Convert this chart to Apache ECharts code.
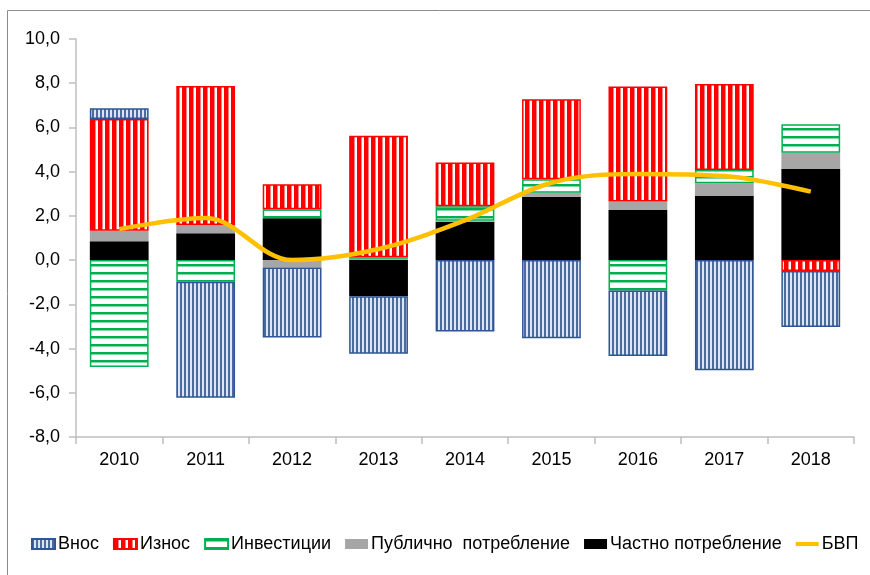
<!DOCTYPE html>
<html>
<head>
<meta charset="utf-8">
<script src="https://cdn.jsdelivr.net/npm/echarts@6/dist/echarts.min.js"></script>
<style>
  html, body { margin: 0; padding: 0; background: #fff; }
  #chart { width: 870px; height: 575px; }
</style>
</head>
<body>
<div id="chart"></div>
<script>
// данни
const years = ['2010', '2011', '2012', '2013', '2014', '2015', '2016', '2017', '2018'];
const vnos = [0.49, -5.25, -3.17, -2.61, -3.23, -3.53, -2.96, -4.98, -2.53];
const iznos = [5.05, 6.29, 1.13, 5.49, 1.98, 3.62, 5.20, 3.88, -0.49];
const investicii = [-4.83, -0.98, 0.41, 0.07, 0.66, 0.61, -1.38, 0.60, 1.29];
const publichno = [0.48, 0.38, -0.33, 0.06, 0.04, 0.18, 0.38, 0.58, 0.74];
const chastno = [0.85, 1.21, 1.89, -1.63, 1.74, 2.87, 2.27, 2.90, 4.12];
const bvp = [1.4, 1.9, 0.0, 0.5, 1.8, 3.5, 3.9, 3.8, 3.1];

// шарки (щриховки)
function makePattern(w, h, draw) {
  const c = document.createElement('canvas');
  c.width = w;
  c.height = h;
  const ctx = c.getContext('2d');
  draw(ctx);
  return { image: c, repeat: 'repeat' };
}
const vnosFill = makePattern(4, 4, function (ctx) {
  ctx.fillStyle = '#dde5f0';
  ctx.fillRect(0, 0, 4, 4);
  ctx.fillStyle = '#4b6c9c';
  ctx.fillRect(0, 0, 2, 4);
});
const iznosFill = makePattern(7, 4, function (ctx) {
  ctx.fillStyle = '#ffffff';
  ctx.fillRect(0, 0, 7, 4);
  ctx.fillStyle = '#ff0000';
  ctx.fillRect(0, 0, 4, 4);
  ctx.fillStyle = '#ff8080';
  ctx.fillRect(4, 0, 1, 4);
});
const investFill = makePattern(4, 8, function (ctx) {
  ctx.fillStyle = '#ffffff';
  ctx.fillRect(0, 0, 4, 8);
  ctx.fillStyle = '#00b050';
  ctx.fillRect(0, 0, 4, 2);
  ctx.fillStyle = '#80d8a8';
  ctx.fillRect(0, 2, 4, 1);
});

const chart = echarts.init(document.getElementById('chart'));

function barSeries(name, data, fill, border) {
  return {
    name: name,
    type: 'bar',
    stack: 'total',
    barCategoryGap: '32%',
    data: data,
    itemStyle: {
      color: fill,
      borderColor: border,
      borderWidth: border ? 1.5 : 0
    },
    emphasis: { disabled: true }
  };
}

const option = {
  animation: false,
  textStyle: { fontFamily: 'Liberation Sans, Arial, sans-serif' },
  graphic: [{
    type: 'rect',
    shape: { x: 7.5, y: 10.5, width: 900, height: 600 },
    style: { fill: 'none', stroke: '#8c8c8c', lineWidth: 1 },
    silent: true
  }],
  grid: {
    left: 76,
    right: 16,
    top: 39,
    bottom: 138
  },
  legend: {
    bottom: 17,
    left: 26,
    itemWidth: 23,
    itemHeight: 10,
    itemGap: 14,
    textStyle: { fontSize: 18, color: '#000', padding: [0, 0, 0, -2] },
    data: [
      { name: 'Внос', icon: 'rect' },
      { name: 'Износ', icon: 'rect' },
      { name: 'Инвестиции', icon: 'rect' },
      { name: 'Публично  потребление', icon: 'rect' },
      { name: 'Частно потребление', icon: 'rect' },
      { name: 'БВП', icon: 'path://M0,0 L50,0 L50,9 L0,9 Z' }
    ]
  },
  xAxis: {
    type: 'category',
    data: years,
    position: 'bottom',
    axisLine: { onZero: false, lineStyle: { color: '#bfbfbf', width: 1.5 } },
    axisTick: { show: true, length: 7, lineStyle: { color: '#bfbfbf', width: 1.5 } },
    axisLabel: { fontSize: 18, color: '#000', margin: 14 },
    splitLine: { show: false }
  },
  yAxis: {
    type: 'value',
    min: -8,
    max: 10,
    interval: 2,
    axisLine: { show: true, lineStyle: { color: '#bfbfbf', width: 1.5 } },
    axisTick: { show: true, length: 7, lineStyle: { color: '#bfbfbf', width: 1.5 } },
    axisLabel: {
      fontSize: 18,
      color: '#000',
      margin: 16,
      formatter: function (v) { return v.toFixed(1).replace('.', ','); }
    },
    splitLine: { show: false }
  },
  series: [
    barSeries('Частно потребление', chastno, '#000000', null),
    barSeries('Публично  потребление', publichno, '#a6a6a6', null),
    barSeries('Инвестиции', investicii, investFill, '#00b050'),
    barSeries('Износ', iznos, iznosFill, '#ff0000'),
    barSeries('Внос', vnos, vnosFill, '#2f5597'),
    {
      name: 'БВП',
      type: 'line',
      data: bvp,
      smooth: 0.35,
      symbol: 'none',
      z: 10,
      lineStyle: { color: '#ffc000', width: 4.5 },
      itemStyle: { color: '#ffc000' },
      emphasis: { disabled: true }
    }
  ]
};

chart.setOption(option);
</script>
</body>
</html>
